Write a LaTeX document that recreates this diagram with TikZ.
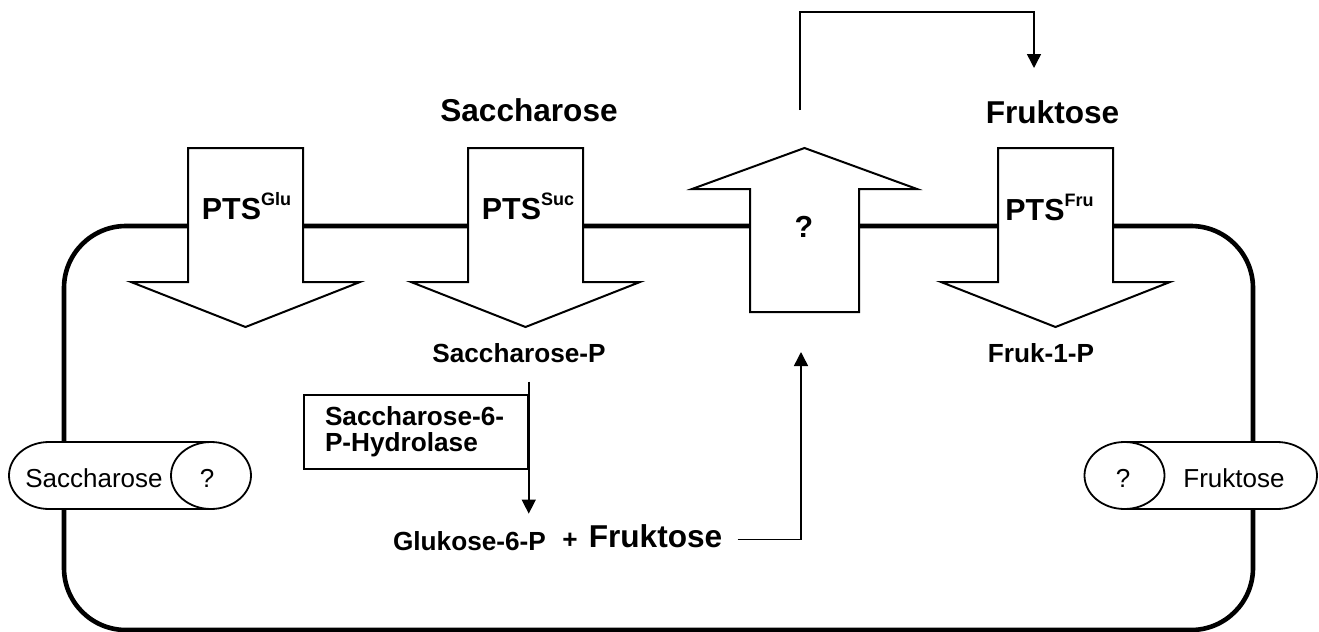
\documentclass[tikz,border=0pt]{standalone}
\usepackage{fontspec}
\setmainfont{Liberation Sans}
\usetikzlibrary{arrows.meta}

\newcommand{\ptsname}[1]{PTS\raisebox{7pt}{\fontsize{9}{9}\selectfont #1}}

\tikzset{
  membrane/.style={line width=2.3pt,rounded corners=31pt},
  carrier/.style={draw,line width=1pt,fill=white},
  pill/.style={draw,line width=0.9pt,fill=white},
  sugar/.style={font=\fontsize{15.8}{18}\selectfont\bfseries,inner sep=0pt,anchor=base},
  ptslabel/.style={font=\fontsize{15.2}{18}\selectfont\bfseries,inner sep=0pt,anchor=base},
  metab/.style={font=\fontsize{13.1}{15}\selectfont\bfseries,inner sep=0pt,anchor=base},
  pilltext/.style={font=\fontsize{13}{15}\selectfont,inner sep=0pt,anchor=base},
  enzyme/.style={draw,line width=0.75pt,font=\fontsize{13.1}{13}\selectfont\bfseries,
    align=left,text width=91pt,inner xsep=10.5pt,minimum height=37pt},
  flow/.style={line width=0.75pt,-{Triangle[width=7pt,length=7pt]}},
}

\begin{document}
\begin{tikzpicture}[x=0.5pt,y=-0.5pt]
  \useasboundingbox (0,0) rectangle (1319,632);
  % cell
  \draw[membrane] (64,226) rectangle (1253,630);
  % PTS carriers (into the cell)
  \foreach \c in {245.5,525.5,1055.5}
    \draw[carrier] (\c-57.5,148) -- (\c+57.5,148) -- (\c+57.5,282) -- (\c+114.5,282)
      -- (\c,327) -- (\c-114.5,282) -- (\c-57.5,282) -- cycle;
  % unknown exporter
  \draw[carrier] (750,312) -- (859,312) -- (859,189) -- (917,189) -- (804.5,148)
    -- (692,189) -- (750,189) -- cycle;
  % side transporters
  \draw[pill] (211,442) -- (49,442) arc[start angle=90,end angle=270,x radius=20pt,y radius=16.75pt]
    -- (211,509) -- cycle;
  \draw[pill] (211,475.5) ellipse[x radius=20pt,y radius=16.75pt];
  \draw[pill] (1124.5,442) -- (1277,442) arc[start angle=90,end angle=-90,x radius=20pt,y radius=16.75pt]
    -- (1124.5,509) -- cycle;
  \draw[pill] (1124.5,475.5) ellipse[x radius=20pt,y radius=16.75pt];

  \node[sugar] (sacT) at (529,121) {Saccharose};
  \node[sugar] (fruT) at (1052.5,123) {Fruktose};
  \node[ptslabel] (ptsGlu) at (246.5,219) {\ptsname{Glu}};
  \node[ptslabel] (ptsSuc) at (528,219) {\ptsname{Suc}};
  \node[ptslabel] (ptsFru) at (1049.5,220) {\ptsname{Fru}};
  \node[ptslabel] (qExp) at (804,237) {?};

  \node[metab] (sacP) at (519,362) {Saccharose-P};
  \node[metab] (fruP) at (1041,362) {Fruk-1-P};
  \node[enzyme] (hydro) at (416,432) {Saccharose-6-\\P-Hydrolase};
  \node[metab] (gluP) at (469.5,550) {Glukose-6-P};
  \node[metab] (plus) at (570,548) {+};
  \node[sugar] (fruB) at (655.5,547) {Fruktose};

  \node[pilltext] (sacIn) at (94,487) {Saccharose};
  \node[pilltext] (qSac) at (207,487) {?};
  \node[pilltext] (qFru) at (1123,487) {?};
  \node[pilltext] (fruIn) at (1234,487) {Fruktose};

  \coordinate (qin) at (801,352);
  \coordinate (qout) at (800,110);
  \coordinate (fruin) at (1034,68);

  \draw[flow,shorten <=9.5pt,shorten >=8.5pt] (sacP.south -| hydro.east) -- (gluP.north -| hydro.east);
  \draw[flow,shorten <=7.5pt] ([yshift=-2pt]fruB.east) -| (qin);
  \draw[flow] (qout) -- ++(0,-98) -| (fruin);
\end{tikzpicture}
\end{document}
